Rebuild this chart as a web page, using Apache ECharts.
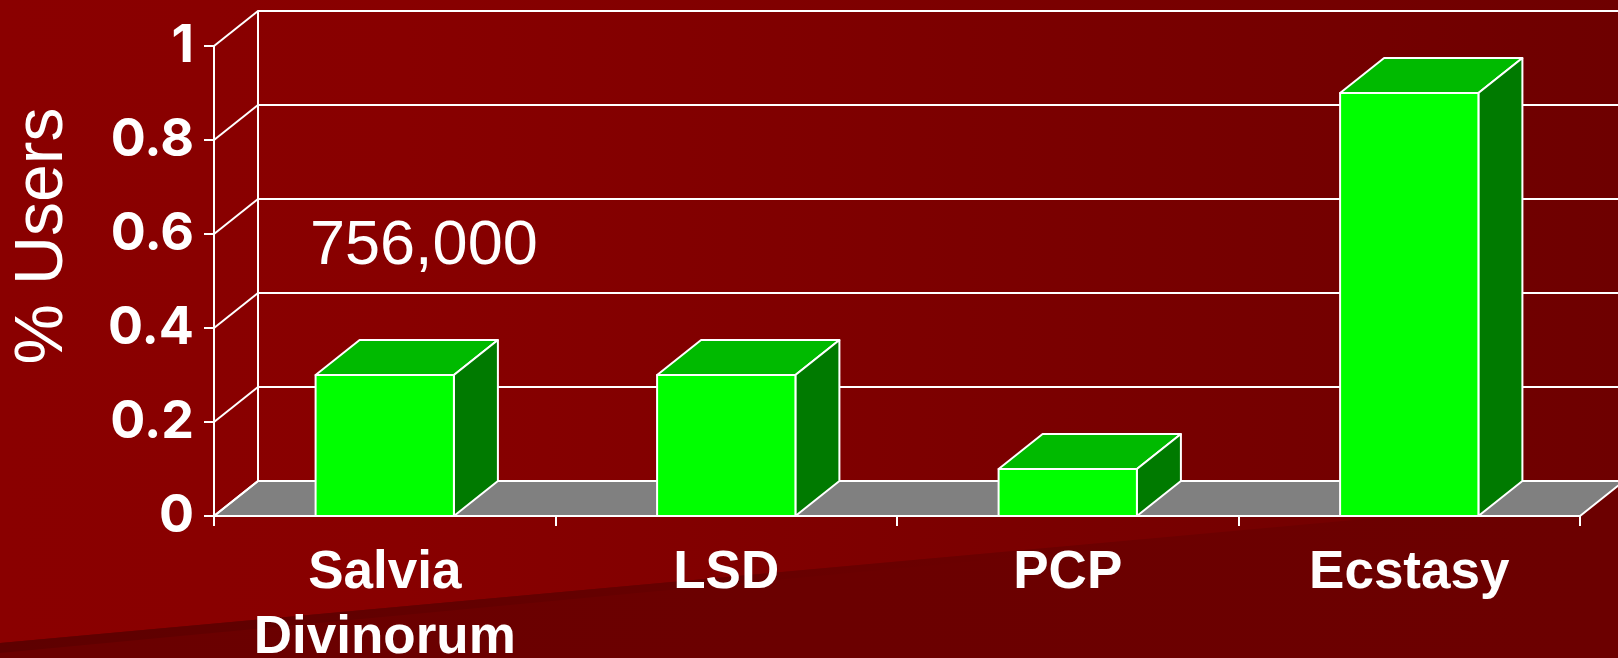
<!DOCTYPE html>
<html>
<head>
<meta charset="utf-8">
<script src="https://cdn.jsdelivr.net/npm/echarts@6/dist/echarts.min.js"></script>
<style>
html,body{margin:0;padding:0;background:#8a0000;}
#chart{width:1618px;height:658px;}
</style>
</head>
<body>
<div id="chart"></div>
<script>
// ---- data ----
const categories = ['Salvia\nDivinorum', 'LSD', 'PCP', 'Ecstasy'];
const values = [0.3, 0.3, 0.1, 0.9];
const yTicks = [0, 0.2, 0.4, 0.6, 0.8, 1];
const yAxisTitle = '% Users';
const annotation = '756,000';

// ---- layout / style ----
const FRONT_GRID = { left: 214, top: 46, width: 1366, height: 470 };
const DEPTH = [44, -35];
const BAR_FRAC = 0.405;
const C_FRONT = '#00ff00', C_TOP = '#00ba00', C_SIDE = '#007a00';
const C_FLOOR = '#808080';
const WHITE = '#ffffff';
const FONT = '"Liberation Sans", Arial, sans-serif';
const TICK_FONT = 'Inter, "Liberation Sans", Arial, sans-serif';

const chart = echarts.init(document.getElementById('chart'), null, { renderer: 'canvas' });

const edge = { stroke: WHITE, lineWidth: 2, lineJoin: 'round' };

function barItem(params, api) {
  const idx = api.value(0), v = api.value(1);
  const top = api.coord([idx, v]);
  const base = api.coord([idx, 0]);
  const w = api.size([1, 0])[0] * BAR_FRAC;
  const l = top[0] - w / 2, r = top[0] + w / 2;
  const dx = DEPTH[0], dy = DEPTH[1];
  return {
    type: 'group',
    children: [
      { type: 'polygon', shape: { points: [[l, top[1]], [r, top[1]], [r + dx, top[1] + dy], [l + dx, top[1] + dy]] },
        style: Object.assign({ fill: C_TOP }, edge) },
      { type: 'polygon', shape: { points: [[r, top[1]], [r + dx, top[1] + dy], [r + dx, base[1] + dy], [r, base[1]]] },
        style: Object.assign({ fill: C_SIDE }, edge) },
      { type: 'rect', shape: { x: l, y: top[1], width: w, height: base[1] - top[1] },
        style: Object.assign({ fill: C_FRONT }, edge) }
    ]
  };
}

function floorItem(params, api) {
  const half = api.size([1, 0])[0] / 2;
  const a = api.coord([0, 0]);
  const b = api.coord([categories.length - 1, 0]);
  const xl = a[0] - half, xr = b[0] + half, y = a[1];
  const dx = DEPTH[0], dy = DEPTH[1];
  return {
    type: 'polygon',
    shape: { points: [[xl, y], [xr, y], [xr + dx, y + dy], [xl + dx, y + dy]] },
    style: Object.assign({ fill: C_FLOOR }, edge)
  };
}

function connectorItem(params, api) {
  const half = api.size([1, 0])[0] / 2;
  const p = api.coord([0, api.value(1)]);
  const x0 = p[0] - half;
  return {
    type: 'line',
    shape: { x1: x0, y1: p[1], x2: x0 + DEPTH[0], y2: p[1] + DEPTH[1] },
    style: { stroke: WHITE, lineWidth: 2 }
  };
}

const option = {
  animation: false,
  graphic: [
    { type: 'rect', z: -100, silent: true, shape: { x: 0, y: 0, width: 1618, height: 658 },
      style: { fill: { type: 'linear', x: 0, y: 0, x2: 1, y2: 0,
        colorStops: [{ offset: 0, color: '#8a0000' }, { offset: 0.25, color: '#880000' }, { offset: 1, color: '#6e0000' }] } } },
    { type: 'polygon', z: -99, silent: true,
      shape: { points: [[0, 643], [1618, 496], [1618, 658], [0, 658]] },
      style: { fill: { type: 'linear', x: 0, y: 0, x2: 1, y2: 0,
        colorStops: [{ offset: 0, color: '#6a0000' }, { offset: 1, color: '#6c0000' }] } } },
    { type: 'polygon', z: -98, silent: true,
      shape: { points: [[0, 643], [1200, 534], [1200, 540], [0, 653]] },
      style: { fill: { type: 'linear', x: 0, y: 0, x2: 1, y2: 0,
        colorStops: [{ offset: 0, color: '#5e0000' }, { offset: 0.5, color: '#640000' }, { offset: 1, color: 'rgba(108,0,0,0)' }] } } },
    { type: 'text', z: 10, x: 43, y: 236, rotation: Math.PI / 2,
      style: { text: yAxisTitle, fill: WHITE, font: '68px ' + FONT, align: 'center', verticalAlign: 'middle' } },
    { type: 'text', z: 10, x: 310, y: 247,
      style: { text: annotation, fill: WHITE, font: '63px ' + FONT, align: 'left', verticalAlign: 'middle' } }
  ],
  grid: [
    { left: FRONT_GRID.left, top: FRONT_GRID.top, width: FRONT_GRID.width, height: FRONT_GRID.height,
      outerBoundsMode: 'none', containLabel: false },
    { left: FRONT_GRID.left + DEPTH[0], top: FRONT_GRID.top + DEPTH[1], width: FRONT_GRID.width, height: FRONT_GRID.height,
      outerBoundsMode: 'none', containLabel: false }
  ],
  xAxis: [
    { type: 'category', gridIndex: 0, data: categories, boundaryGap: true,
      axisLine: { show: true, lineStyle: { color: WHITE, width: 2 } },
      axisTick: { show: true, length: 10, alignWithLabel: false, lineStyle: { color: WHITE, width: 2 } },
      axisLabel: { show: true, interval: 0, color: WHITE, fontFamily: FONT, fontWeight: 'bold', fontSize: 53, lineHeight: 65, margin: 25 },
      splitLine: { show: false } },
    { type: 'category', gridIndex: 1, data: categories, boundaryGap: true,
      axisLine: { show: false }, axisTick: { show: false }, axisLabel: { show: false }, splitLine: { show: false } }
  ],
  yAxis: [
    { type: 'value', gridIndex: 0, min: yTicks[0], max: yTicks[yTicks.length - 1], interval: 0.2,
      axisLine: { show: true, lineStyle: { color: WHITE, width: 2 } },
      axisTick: { show: true, length: 10, lineStyle: { color: WHITE, width: 2 } },
      axisLabel: { color: WHITE, fontFamily: TICK_FONT, fontWeight: 'bold', fontSize: 52, margin: 20 },
      splitLine: { show: false } },
    { type: 'value', gridIndex: 1, min: yTicks[0], max: yTicks[yTicks.length - 1], interval: 0.2,
      axisLine: { show: true, lineStyle: { color: WHITE, width: 2 } },
      axisTick: { show: false }, axisLabel: { show: false },
      splitLine: { show: true, lineStyle: { color: WHITE, width: 2 } } }
  ],
  series: [
    { type: 'custom', name: 'floor', xAxisIndex: 0, yAxisIndex: 0, z: 2, clip: false, silent: true,
      data: [[0, 0]], renderItem: floorItem },
    { type: 'custom', name: 'connectors', xAxisIndex: 0, yAxisIndex: 0, z: 3, clip: false, silent: true,
      data: yTicks.map(v => [0, v]), renderItem: connectorItem },
    { type: 'custom', name: '% Users', xAxisIndex: 0, yAxisIndex: 0, z: 4, clip: false,
      data: values.map((v, i) => [i, v]), encode: { x: 0, y: 1 }, renderItem: barItem }
  ]
};
chart.setOption(option);
</script>
</body>
</html>
